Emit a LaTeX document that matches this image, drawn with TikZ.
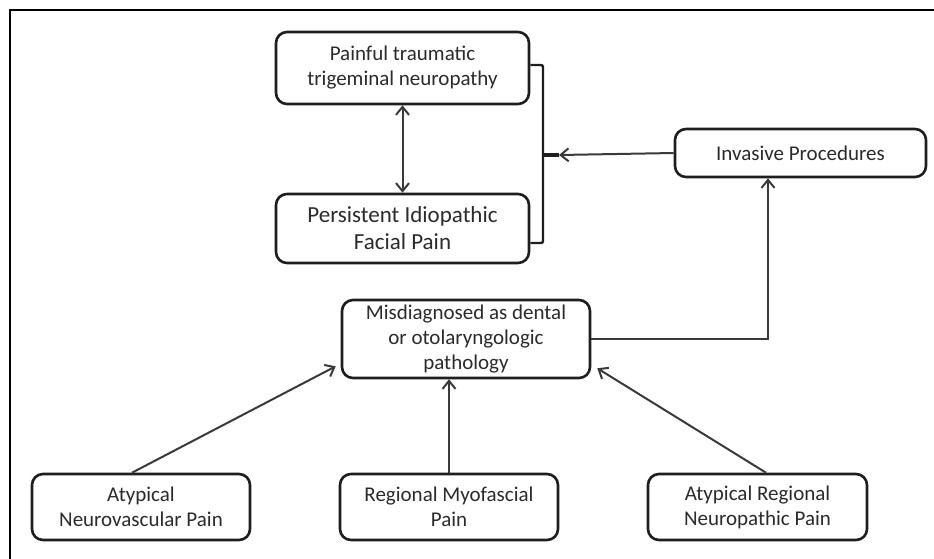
\documentclass[tikz,border=0pt]{standalone}
\usepackage{fontspec}
\setmainfont{Carlito}
\usetikzlibrary{arrows.meta,calc}
\definecolor{boxline}{HTML}{1E1E1E}
\definecolor{conn}{HTML}{3A3A3A}
\definecolor{txt}{HTML}{2B2B2B}
\begin{document}
\begin{tikzpicture}[x=1pt,y=-1pt,
  box/.style={draw=boxline, line width=2.6pt, rounded corners=11pt, fill=white,
    align=center, inner sep=0pt, text=txt, font=\fontsize{21}{25}\selectfont},
  bigbox/.style={box, font=\fontsize{23}{27}\selectfont},
  conn/.style={draw=conn, line width=2pt},
  arr/.style={conn, -{Straight Barb[length=8pt,width=13pt,line width=2pt]}},
  darr/.style={conn, {Straight Barb[length=8pt,width=13pt,line width=2pt]}-{Straight Barb[length=8pt,width=13pt,line width=2pt]}}
]
\useasboundingbox (0,0) rectangle (934,558);
\fill[white] (0,0) rectangle (934,558);
% frame (only top and left edges visible)
\draw[line width=2.4pt, draw=black] (10,560) -- (10,10) -- (936,10);

% nodes
\node[box, minimum width=253pt, minimum height=72pt] (ptn) at (402.5,68) {Painful traumatic\\trigeminal neuropathy};
\node[bigbox, minimum width=253pt, minimum height=69pt] (pifp) at (402.5,228.5) {Persistent Idiopathic\\Facial Pain};
\node[box, minimum width=251pt, minimum height=48pt] (inv) at (800.5,153) {Invasive Procedures};
\node[box, minimum width=248pt, minimum height=78pt] (mis) at (466,339) {Misdiagnosed as dental\\or otolaryngologic\\pathology};
\node[box, minimum width=218pt, minimum height=66pt] (anp) at (141,507) {Atypical\\Neurovascular Pain};
\node[box, minimum width=218pt, minimum height=66pt] (rmp) at (449,507) {Regional Myofascial\\Pain};
\node[box, minimum width=219pt, minimum height=66pt] (arnp) at (757.5,507) {Atypical Regional\\Neuropathic Pain};

% bracket grouping the two top boxes
\coordinate (brt) at (543,65);
\coordinate (brb) at (543,243);
\coordinate (brm) at (543,155);
\coordinate (stub) at (559,155);
\draw[draw=boxline, line width=2.4pt, rounded corners=2pt]
  (ptn.east |- brt) -- (brt) -- (brb) -- (pifp.east |- brb);
\draw[draw=boxline, line width=3.2pt] (brm) -- (stub);

% connectors
\draw[darr] (ptn.south) -- (pifp.north);
\draw[arr] (inv.west) -- (stub);
\draw[arr] (mis.east) -| ([xshift=-32.5pt]inv.south);
\draw[arr] ([xshift=-9pt]anp.north) -- ([xshift=-5pt,yshift=13pt]mis.south west);
\draw[arr] (rmp.north) -- (rmp.north |- mis.south);
\draw[arr] ([xshift=8.5pt]arnp.north) -- ([xshift=6pt,yshift=11pt]mis.south east);
\end{tikzpicture}
\end{document}
